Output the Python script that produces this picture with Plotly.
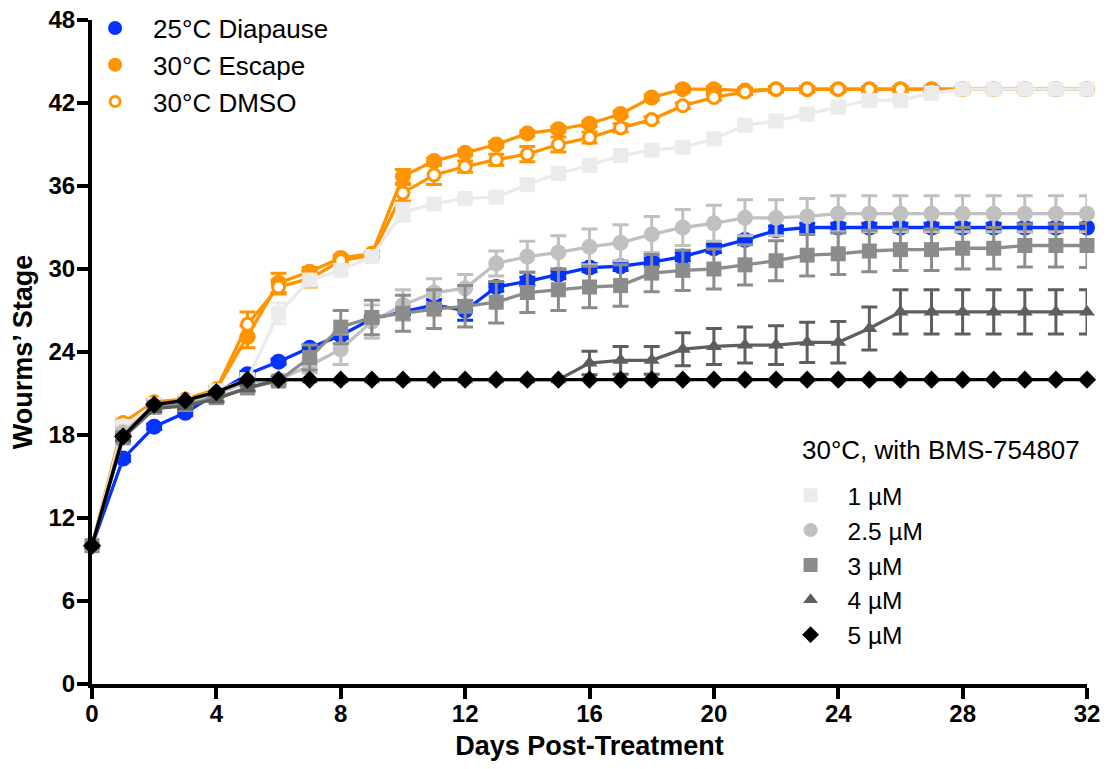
import plotly.graph_objects as go

# days after treatment
days = list(range(33))

# 25C diapause (blue)
diapause = [10, 16.3, 18.6, 19.6, 21.0, 22.4, 23.3, 24.3, 25.2, 26.4, 26.9, 27.4, 27.0,
            28.7, 29.1, 29.6, 30.1, 30.2, 30.5, 30.9, 31.5, 32.1, 32.8, 33.0, 33.0, 33.0,
            33.0, 33.0, 33.0, 33.0, 33.0, 33.0, 33.0]
diapause_err = [0, 0.2, 0.2, 0.2, 0.2, 0.2, 0.2, 0.2, 0.2, 0.2, 0.2, 0.4, 0.7,
                0.3, 0.3, 0.3, 0.3, 0.3, 0.3, 0.3, 0.3, 0.3, 0.3, 0.3, 0.3, 0.3,
                0.3, 0.3, 0.3, 0.3, 0.3, 0.3, 0.3]

# 30C escape (orange filled)
escape = [10, 18.6, 20.3, 20.5, 21.3, 25.1, 29.0, 29.8, 30.8, 31.1, 36.7, 37.8, 38.4,
          39.0, 39.8, 40.1, 40.5, 41.2, 42.4, 43.0, 43.0, 42.9, 43.0, 43.0, 43.0, 43.0,
          43.0, 43.0, 43.0, 43.0, 43.0, 43.0, 43.0]
escape_err = [0, 0.2, 0.2, 0.2, 0.2, 0.8, 0.7, 0.3, 0.2, 0.2, 0.5, 0.2, 0.2,
              0.2, 0.2, 0.2, 0.2, 0.2, 0.2, 0.2, 0.2, 0.2, 0.2, 0.2, 0.2, 0.2,
              0.2, 0.2, 0.2, 0.2, 0.2, 0.2, 0.2]

# 30C DMSO (orange open)
dmso = [10, 18.9, 20.4, 20.6, 21.3, 26.0, 28.7, 29.3, 30.6, 31.0, 35.5, 36.8, 37.4,
        37.9, 38.3, 39.0, 39.5, 40.2, 40.8, 41.8, 42.4, 42.8, 43.0, 43.0, 43.0, 43.0,
        43.0, 43.0, 43.0, 43.0, 43.0, 43.0, 43.0]
dmso_err = [0, 0.2, 0.2, 0.2, 0.2, 0.9, 0.5, 0.6, 0.2, 0.2, 0.6, 0.7, 0.4,
            0.4, 0.55, 0.55, 0.4, 0.3, 0.2, 0.2, 0.2, 0.2, 0.2, 0.2, 0.2, 0.2,
            0.2, 0.2, 0.2, 0.2, 0.2, 0.2, 0.2]

# 30C with BMS-754807
bms_1 = [10, 18.6, 20.2, 20.4, 21.2, 22.0, 26.8, 29.2, 29.9, 30.9, 34.1, 34.7, 35.1,
         35.2, 36.1, 36.9, 37.5, 38.2, 38.6, 38.8, 39.4, 40.4, 40.7, 41.2, 41.7, 42.2,
         42.2, 42.7, 43.0, 43.0, 43.0, 43.0, 43.0]
bms_1_err = [0, 0.2, 0.2, 0.2, 0.2, 0.2, 0.75, 0.3, 0.2, 0.2, 0.65, 0.4, 0.2,
             0.2, 0.2, 0.2, 0.2, 0.2, 0.2, 0.2, 0.2, 0.2, 0.2, 0.2, 0.2, 0.2,
             0.2, 0.2, 0.2, 0.2, 0.2, 0.2, 0.2]

bms_2_5 = [10, 18.2, 20.1, 20.4, 21.0, 21.8, 22.0, 23.0, 24.2, 26.2, 27.4, 28.3, 28.6,
           30.4, 30.9, 31.2, 31.6, 31.9, 32.5, 33.0, 33.3, 33.7, 33.7, 33.8, 34.0, 34.0,
           34.0, 34.0, 34.0, 34.0, 34.0, 34.0, 34.0]
bms_2_5_err = [0, 0.2, 0.2, 0.2, 0.2, 0.2, 0.2, 0.5, 1.1, 1.2, 1.1, 1.0, 1.0,
               0.9, 1.1, 1.2, 1.3, 1.3, 1.3, 1.3, 1.3, 1.3, 1.3, 1.3, 1.3, 1.3,
               1.3, 1.3, 1.3, 1.3, 1.3, 1.3, 1.3]

bms_3 = [10, 17.8, 20.0, 20.2, 20.7, 21.4, 21.9, 23.6, 25.8, 26.5, 26.8, 27.1, 27.3,
         27.6, 28.3, 28.5, 28.7, 28.8, 29.7, 29.9, 30.0, 30.3, 30.6, 31.0, 31.1, 31.3,
         31.4, 31.4, 31.5, 31.5, 31.7, 31.7, 31.7]
bms_3_err = [0, 0.3, 0.3, 0.3, 0.3, 0.3, 0.3, 0.9, 1.2, 1.25, 1.3, 1.4, 1.5,
             1.5, 1.45, 1.5, 1.5, 1.5, 1.35, 1.45, 1.45, 1.45, 1.45, 1.5, 1.5, 1.5,
             1.5, 1.5, 1.5, 1.5, 1.55, 1.55, 1.6]

bms_4 = [10, 17.8, 19.9, 20.1, 20.6, 21.4, 22.0, 22.0, 22.0, 22.0, 22.0, 22.0, 22.0,
         22.0, 22.0, 22.0, 23.2, 23.4, 23.4, 24.2, 24.4, 24.5, 24.5, 24.7, 24.7, 25.7,
         26.9, 26.9, 26.9, 26.9, 26.9, 26.9, 26.9]
bms_4_err = [0, 0.2, 0.2, 0.2, 0.2, 0.2, 0, 0, 0, 0, 0, 0, 0,
             0, 0, 0, 0.85, 1.0, 1.0, 1.2, 1.3, 1.3, 1.4, 1.45, 1.5, 1.55,
             1.6, 1.6, 1.6, 1.6, 1.6, 1.6, 1.6]

bms_5 = [10, 17.9, 20.2, 20.5, 21.1, 22.0, 22.0, 22.0, 22.0, 22.0, 22.0, 22.0, 22.0,
         22.0, 22.0, 22.0, 22.0, 22.0, 22.0, 22.0, 22.0, 22.0, 22.0, 22.0, 22.0, 22.0,
         22.0, 22.0, 22.0, 22.0, 22.0, 22.0, 22.0]

FONT = "Liberation Sans, Arial, sans-serif"
BLUE = "#0433FF"
ORANGE = "#FF9300"

# name, y, err, color, symbol, size, fill, legend
series = [
    ("25°C Diapause", diapause, diapause_err, BLUE, "circle", 16, BLUE, "legend"),
    ("30°C Escape", escape, escape_err, ORANGE, "circle", 16, ORANGE, "legend"),
    ("30°C DMSO", dmso, dmso_err, ORANGE, "circle", 12, "white", "legend"),
    ("1 µM", bms_1, bms_1_err, "#EBEBEB", "square", 15, "#EBEBEB", "legend2"),
    ("2.5 µM", bms_2_5, bms_2_5_err, "#C0C0C0", "circle", 16, "#C0C0C0", "legend2"),
    ("3 µM", bms_3, bms_3_err, "#8C8C8C", "square", 15, "#8C8C8C", "legend2"),
    ("4 µM", bms_4, bms_4_err, "#5E5E5E", "triangle-up", 14, "#5E5E5E", "legend2"),
    ("5 µM", bms_5, None, "#000000", "diamond", 14, "#000000", "legend2"),
]

fig = go.Figure()
for name, y, err, col, sym, size, fill, leg in series:
    open_marker = fill == "white"
    fig.add_trace(go.Scatter(
        x=days, y=y, mode="lines+markers", showlegend=False, cliponaxis=False,
        line=dict(color=col, width=3.3),
        marker=dict(symbol=sym, size=size, color=fill,
                    line=dict(color=col, width=3 if open_marker else 0)),
        error_y=dict(type="data", array=err, visible=err is not None,
                     color=col, thickness=3, width=8),
    ))
    # legend-only entry (marker symbol only, like the reference)
    fig.add_trace(go.Scatter(
        x=[None], y=[None], mode="markers", name=name, legend=leg,
        legendgroup=name,
        marker=dict(symbol=sym, size=min(size, 15) - 1 if not open_marker else 10,
                    color=fill, line=dict(color=col, width=3 if open_marker else 0)),
    ))

axis_common = dict(
    showline=True, linecolor="black", linewidth=4, mirror=False,
    ticks="outside", ticklen=11, tickwidth=4, tickcolor="black",
    showgrid=False, zeroline=False, ticklabeloverflow="allow",
    tickfont=dict(family=FONT, size=24, color="black", weight="bold"),
)

# page body has an 8px margin, so the figure is 16px smaller than the window
fig.update_layout(
    width=1093, height=753,
    margin=dict(l=84, r=14, t=12, b=77, autoexpand=False),
    plot_bgcolor="white", paper_bgcolor="white",
    font=dict(family=FONT, color="black"),
    xaxis=dict(range=[0, 32], tickvals=list(range(0, 33, 4)), ticklabelstandoff=-6,
               title=dict(text="Days Post-Treatment", standoff=20,
                          font=dict(family=FONT, size=27, weight="bold")),
               **axis_common),
    yaxis=dict(range=[0, 48], tickvals=list(range(0, 49, 6)), ticklabelstandoff=-3,
               title=dict(text="Wourms’ Stage", standoff=12,
                          font=dict(family=FONT, size=27, weight="bold")),
               **axis_common),
    legend=dict(x=-0.015, y=1.0233, xanchor="left", yanchor="top",
                itemwidth=66, traceorder="grouped", tracegroupgap=0,
                bgcolor="rgba(0,0,0,0)",
                font=dict(family=FONT, size=26, color="black")),
    legend2=dict(x=0.685, y=0.318, xanchor="left", yanchor="top",
                 itemwidth=64, traceorder="grouped", tracegroupgap=0,
                 bgcolor="rgba(0,0,0,0)",
                 font=dict(family=FONT, size=24.5, color="black")),
    annotations=[dict(text="30°C, with BMS-754807", xref="paper", yref="paper",
                      x=(800 - 92) / 995, y=(684 - 450) / 664,
                      xanchor="left", yanchor="middle", showarrow=False,
                      font=dict(family=FONT, size=26, color="black"))],
)

fig.write_html("out.html")
